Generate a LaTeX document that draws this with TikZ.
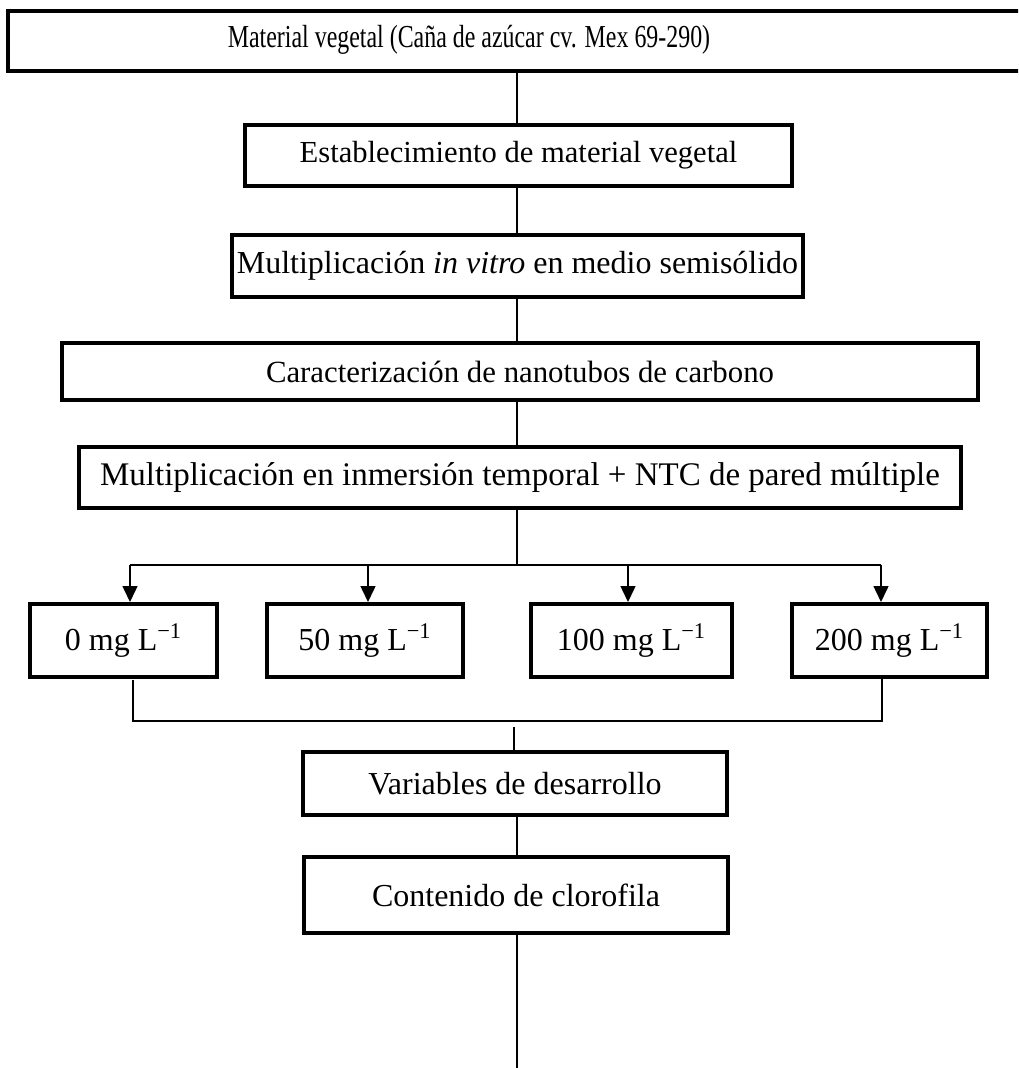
\documentclass[tikz,border=0pt]{standalone}
\usepackage{fontspec}
\setmainfont{Liberation Serif}
\usetikzlibrary{arrows.meta}

\tikzset{
  stepbox/.style={draw, line width=2pt, inner sep=0pt, align=center,
    font=\fontsize{16}{19}\selectfont},
  steptext/.style={inner sep=0pt, font=\fontsize{16}{19}\selectfont},
  link/.style={line width=0.75pt},
  linkarrow/.style={link, -{Triangle[length=8pt,width=7.5pt]}},
}

\begin{document}
\begin{tikzpicture}[x=0.5pt,y=-0.5pt]
  \useasboundingbox (0,0) rectangle (1018,1068);
  \clip (0,0) rectangle (1018,1068);

  \coordinate (spine) at (517,0);

  % main steps
  \node[stepbox, minimum width=511pt, minimum height=30pt] (mat) at (519,41) {};
  \node[steptext] (matText) at (469,40)
    {\scalebox{0.747}[1]{Material vegetal (Caña de azúcar cv. Mex 69-290)}};
  \node[stepbox, minimum width=273.5pt, minimum height=30.5pt,
    font=\fontsize{15.3}{18}\selectfont] (est) at (518.5,155.5)
    {Establecimiento de material vegetal};
  \node[stepbox, minimum width=285.5pt, minimum height=31pt] (mult) at (517.5,266)
    {Multiplicación \textit{in vitro} en medio semisólido};
  \node[stepbox, minimum width=458pt, minimum height=28.5pt,
    font=\fontsize{15.4}{18}\selectfont] (car) at (520,371.5)
    {Caracterización de nanotubos de carbono};
  \node[stepbox, minimum width=441pt, minimum height=30.5pt,
    font=\fontsize{16.5}{19}\selectfont] (inm) at (520,477.5)
    {Multiplicación en inmersión temporal + NTC de pared múltiple};

  % concentrations
  \node[stepbox, minimum width=93.5pt,  minimum height=36.5pt] (b0)   at (123.5,640.5) {0 mg L\textsuperscript{−1}};
  \node[stepbox, minimum width=98pt,    minimum height=36.5pt] (b50)  at (365,640.5)   {50 mg L\textsuperscript{−1}};
  \node[stepbox, minimum width=100.5pt, minimum height=36.5pt] (b100) at (631.5,640.5) {100 mg L\textsuperscript{−1}};
  \node[stepbox, minimum width=97.5pt,  minimum height=36.5pt] (b200) at (889.5,640.5) {200 mg L\textsuperscript{−1}};

  % evaluations
  \node[stepbox, minimum width=212pt, minimum height=31.5pt] (var) at (515,783.5)
    {Variables de desarrollo};
  \node[stepbox, minimum width=212pt, minimum height=38pt] (clo) at (516,895)
    {Contenido de clorofila};

  % connectors
  \draw[link] (mat.south -| spine) -- (est.north -| spine);
  \draw[link] (est.south -| spine) -- (mult.north -| spine);
  \draw[link] (mult.south -| spine) -- (car.north -| spine);
  \draw[link] (car.south -| spine) -- (inm.north -| spine);

  \coordinate (a0)   at (130,565);
  \coordinate (a50)  at (368,565);
  \coordinate (a100) at (628,565);
  \coordinate (a200) at (881,565);
  \draw[link] (inm.south -| spine) -- (spine |- a0);
  \draw[link] (a0) -- (a200);
  \draw[linkarrow] (a0)   -- (b0.north -| a0);
  \draw[linkarrow] (a50)  -- (b50.north -| a50);
  \draw[linkarrow] (a100) -- (b100.north -| a100);
  \draw[linkarrow] (a200) -- (b200.north -| a200);

  \coordinate (c0top) at (133,680);
  \coordinate (c0)    at (133,721);
  \coordinate (c200)  at (882,721);
  \draw[link] (c0top) -- (c0) -- (c200) -- (b200.south -| c200);

  \coordinate (gapEnd) at (514,727);
  \coordinate (bottomEnd) at (517,1068);
  \draw[link] (gapEnd) -- (var.north -| gapEnd);
  \draw[link] (var.south -| spine) -- (clo.north -| spine);
  \draw[link] (clo.south -| spine) -- (bottomEnd);
\end{tikzpicture}
\end{document}
